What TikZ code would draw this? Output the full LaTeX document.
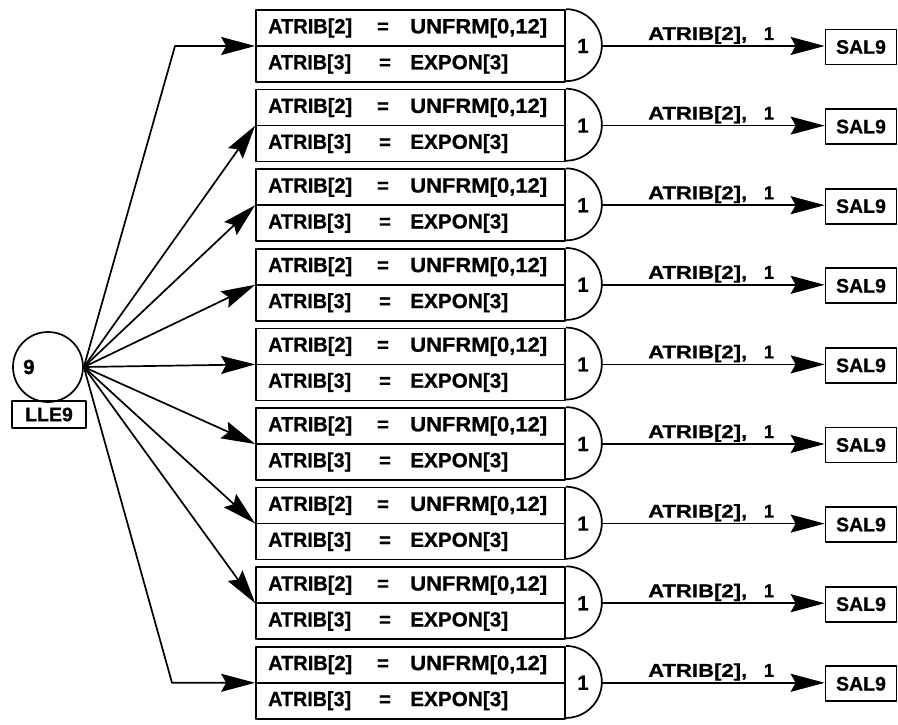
\documentclass[tikz,border=0pt]{standalone}
\usepackage{fontspec}
\setmainfont{Liberation Sans}
\newfontfamily\hb{Liberation Sans}[BoldFeatures={FakeBold=0.8}]
\usetikzlibrary{arrows.meta}
\newcommand{\fit}[2]{\resizebox{#1pt}{\height}{#2}}
\begin{document}
\begin{tikzpicture}[x=1pt,y=-1pt,
  ln/.style={line width=1.7pt, line join=round},
  arr/.style={ln, -{Stealth[length=34pt,width=18pt,inset=5pt]}},
  txt/.style={font=\fontsize{20.5}{20.5}\hb\bfseries, inner sep=0pt},
  lbl/.style={font=\fontsize{18.5}{18.5}\hb\bfseries, inner sep=0pt},
  actbox/.style={draw, ln, minimum width=309pt, minimum height=72pt, inner sep=0pt},
  salbox/.style={draw, ln, minimum width=71pt, minimum height=35pt, inner sep=0pt, font=\fontsize{19.5}{19.5}\hb\bfseries},
  srcbox/.style={draw, ln, minimum width=74pt, minimum height=27pt, inner sep=0pt, font=\fontsize{19.5}{19.5}\hb\bfseries}]
\useasboundingbox (0,0) rectangle (898,725);
% source
\node[draw, ln, circle, minimum size=70pt, inner sep=0pt] (lle) at (48,367) {};
\node[txt, anchor=west] (nine) at (23,367) {9};
\node[srcbox] (llebox) at (49,414.5) {LLE9};
\coordinate (F) at (lle.east);
\foreach \i in {0,...,8}{
  \pgfmathsetmacro{\c}{46+79.6*\i}
  \node[actbox] (b\i) at (410.5,\c) {};
  \draw[ln] (b\i.west) -- (b\i.east);
  \draw[ln] (b\i.north east) arc[start angle=90, end angle=-90, radius=36pt];
  \coordinate (s\i) at ([xshift=36pt]b\i.east);
  \node[txt] (one\i) at (583,\c) {1};
  \node[txt, anchor=west] (a2\i) at (268,\c-18) {\fit{84}{ATRIB[2]}};
  \node[txt] (e2\i) at (383,\c-18) {=};
  \node[txt, anchor=west] (u\i) at (410,\c-18) {\fit{137}{UNFRM[0,12]}};
  \node[txt, anchor=west] (a3\i) at (268,\c+18) {\fit{83}{ATRIB[3]}};
  \node[txt] (e3\i) at (385,\c+18) {=};
  \node[txt, anchor=west] (x\i) at (410,\c+18) {\fit{98}{EXPON[3]}};
  \node[salbox] (sal\i) at (861,\c+1) {SAL9};
  \draw[arr] (s\i) -- (sal\i.west |- s\i);
  \node[lbl, anchor=base west] (l\i) at (648,\c-6) {\fit{99}{ATRIB[2],}};
  \node[lbl, anchor=base] (n\i) at (769,\c-6) {1};
}
\coordinate (k0) at (175,46);
\coordinate (k8) at (172,{46+79.6*8});
\draw[arr] (F) -- (k0) -- (b0.west);
\draw[arr] (F) -- (k8) -- (b8.west);
\foreach \i in {1,...,7}{
  \draw[arr] (F) -- (b\i.west);
}
\end{tikzpicture}
\end{document}
